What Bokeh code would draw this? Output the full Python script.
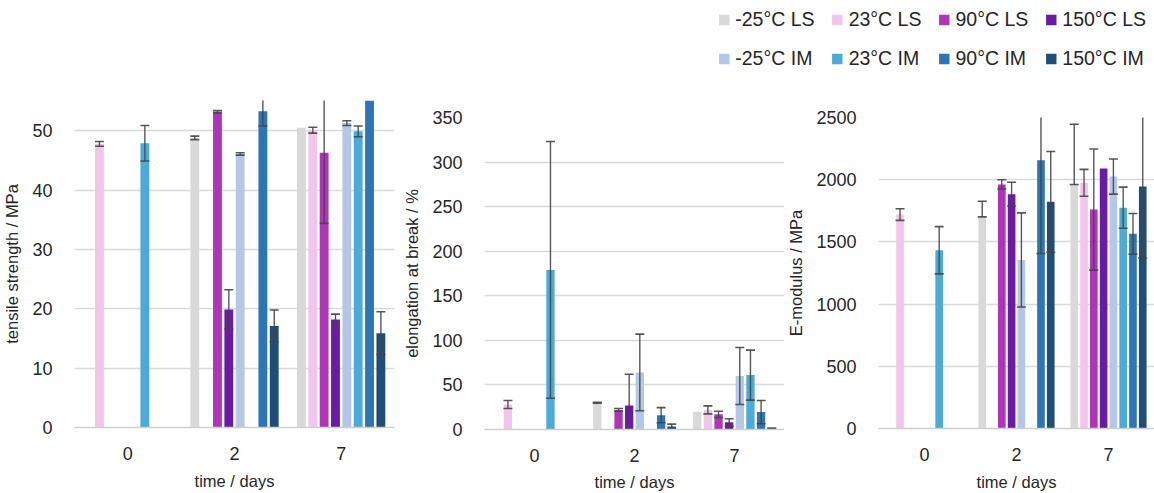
from bokeh.plotting import figure
from bokeh.models import (ColumnDataSource, SingleIntervalTicker, Range1d, FactorRange,
                          Legend, LegendItem)
from bokeh.transform import dodge
from bokeh.layouts import column, row
from bokeh.embed import file_html
from bokeh.resources import INLINE

# ---------------- data ----------------
days = ["0", "2", "7"]
series = ["-25°C LS", "23°C LS", "90°C LS", "150°C LS",
          "-25°C IM", "23°C IM", "90°C IM", "150°C IM"]
colors = ["#d9d9d9", "#f2c5ea", "#ae36b6", "#6b1aa3",
          "#b4c7e7", "#4aaad8", "#2e75b6", "#1f4e79"]

# tensile strength / MPa (mean, symmetric error)
tensile_mean = {
    "0": [None, 47.8, None, None, None, 47.9, None, None],
    "2": [48.8, None, 53.2, 19.9, 46.1, None, 53.3, 17.1],
    "7": [50.5, 50.1, 46.3, 18.2, 51.3, 49.9, 57.0, 15.9],
}
tensile_err = {
    "0": [None, 0.4, None, None, None, 3.0, None, None],
    "2": [0.3, None, 0.2, 3.3, 0.2, None, 2.5, 2.7],
    "7": [0.0, 0.5, 11.9, 0.9, 0.4, 0.9, 0.0, 3.6],
}

# elongation at break / %
elong_mean = {
    "0": [None, 28, None, None, None, 179, None, None],
    "2": [30, None, 22, 27, 64, None, 16, 3.5],
    "7": [20, 22, 17, 8, 60, 61, 19.5, 1],
}
elong_err = {
    "0": [None, 4.5, None, None, None, 144, None, None],
    "2": [0.5, None, 1.5, 35, 43, None, 8.5, 2.5],
    "7": [0, 4.5, 3.5, 4, 32, 28, 13, 0.5],
}

# E-modulus / MPa (mean, lower and upper error)
emod_mean = {
    "0": [None, 1720, None, None, None, 1433, None, None],
    "2": [1701, None, 1962, 1884, 1355, None, 2157, 1822],
    "7": [1962, 1975, 1760, 2090, 2025, 1775, 1565, 1945],
}
emod_err_minus = {
    "0": [None, 47, None, None, None, 190, None, None],
    "2": [0, None, 37, 95, 378, None, 750, 405],
    "7": [0, 108, 487, 0, 141, 165, 163, 575],
}
emod_err_plus = {
    "0": [None, 47, None, None, None, 190, None, None],
    "2": [126, None, 37, 95, 378, None, 750, 405],
    "7": [484, 108, 487, 0, 141, 165, 163, 575],
}

# ---------------- style ----------------
SLOT = 1.0 / 9.4
BAR_W = 0.083
TICK_FONT = "Liberation Sans"
TEXT_FONT = "Liberation Sans"
TXT = "#262626"
GRID = "#d9d9d9"
ERR = "#454545"


def make_panel(ylabel, means, err_minus, err_plus, ymax, interval,
               width, height, bl, br, bt, bb, xl_standoff=9):
    p = figure(x_range=FactorRange(*days), y_range=Range1d(0, ymax),
               width=width, height=height, output_backend="svg", title=None,
               toolbar_location=None, min_border_left=bl, min_border_right=br,
               min_border_top=bt, min_border_bottom=bb)
    for i, col in enumerate(colors):
        off = (i - 3.5) * SLOT
        bx, bt_, ex, elo, ehi = [], [], [], [], []
        for d in days:
            v = means[d][i]
            if v is None:
                continue
            bx.append(d)
            bt_.append(v)
            em, ep = err_minus[d][i], err_plus[d][i]
            if em > 0 or ep > 0:
                ex.append(d)
                elo.append(v - em)
                ehi.append(v + ep)
        bsrc = ColumnDataSource(dict(day=bx, top=bt_))
        p.vbar(x=dodge("day", off, range=p.x_range), top="top", width=BAR_W,
               source=bsrc, fill_color=col, line_color=None)
        esrc = ColumnDataSource(dict(day=ex, lo=elo, hi=ehi))
        xd = dodge("day", off, range=p.x_range)
        p.segment(x0=xd, y0="lo", x1=xd, y1="hi", source=esrc,
                  line_color=ERR, line_width=1.4, line_alpha=0.9)
        p.scatter(x=xd, y="hi", marker="dash", size=9, source=esrc,
                  line_color=ERR, line_width=1.6, line_alpha=0.9)
        p.scatter(x=xd, y="lo", marker="dash", size=9, source=esrc,
                  line_color=ERR, line_width=1.6, line_alpha=0.9)

    ticker = SingleIntervalTicker(interval=interval)
    p.yaxis.ticker = ticker
    p.ygrid.ticker = ticker
    p.ygrid.grid_line_color = GRID
    p.ygrid.grid_line_width = 1.3
    p.xgrid.grid_line_color = None
    p.outline_line_color = None

    p.yaxis.axis_line_color = None
    p.yaxis.major_tick_line_color = None
    p.yaxis.minor_tick_line_color = None
    p.yaxis.major_label_standoff = 16
    p.yaxis.axis_label = ylabel
    p.yaxis.axis_label_standoff = 8

    p.xaxis.axis_line_color = "#cfcfcf"
    p.xaxis.axis_line_width = 1.3
    p.xaxis.major_tick_line_color = None
    p.xaxis.minor_tick_line_color = None
    p.xaxis.major_label_standoff = 13
    p.xaxis.axis_label = "time / days"
    p.xaxis.axis_label_standoff = xl_standoff

    for ax in (p.xaxis[0], p.yaxis[0]):
        ax.major_label_text_font = TICK_FONT
        ax.major_label_text_font_size = "18px"
        ax.major_label_text_color = TXT
        ax.axis_label_text_font = TEXT_FONT
        ax.axis_label_text_font_size = "16.5px"
        ax.axis_label_text_font_style = "normal"
        ax.axis_label_text_color = TXT
    p.background_fill_color = "white"
    p.border_fill_color = "white"
    return p


p1 = make_panel("tensile strength / MPa", tensile_mean, tensile_err, tensile_err,
                55.1, 10, 400, 413, 71, 6, 20, 66)
p2 = make_panel("elongation at break / %", elong_mean, elong_err, elong_err,
                350, 50, 384, 413, 79, 0, 37, 62, xl_standoff=8)
p3 = make_panel("E-modulus / MPa", emod_mean, emod_err_minus, emod_err_plus,
                2500, 500, 370, 413, 80, 0, 37, 65)

# ---------------- legend ----------------
lf = figure(width=1154, height=80, output_backend="svg", toolbar_location=None,
            title=None, x_axis_location=None, y_axis_location=None, min_border=0,
            x_range=Range1d(0, 1), y_range=Range1d(0, 1))
lf.grid.grid_line_color = None
lf.outline_line_color = None
items = []
for name, col in zip(series, colors):
    r = lf.vbar(x=[5], top=[5], bottom=[4], width=0.1, fill_color=col, line_color=None)
    items.append(LegendItem(label=name, renderers=[r]))
leg = Legend(items=items, orientation="horizontal", ncols=4, location="top_right",
             spacing=16, padding=0, margin=8, glyph_width=13, glyph_height=13,
             label_standoff=5, label_text_font=TEXT_FONT,
             label_text_font_size="19.5px", label_text_color=TXT,
             border_line_color=None, background_fill_alpha=0)
lf.add_layout(leg)

layout = column(lf, row(column(p1), column(p2), column(p3)))
open("out.html", "w").write(file_html(layout, INLINE))
